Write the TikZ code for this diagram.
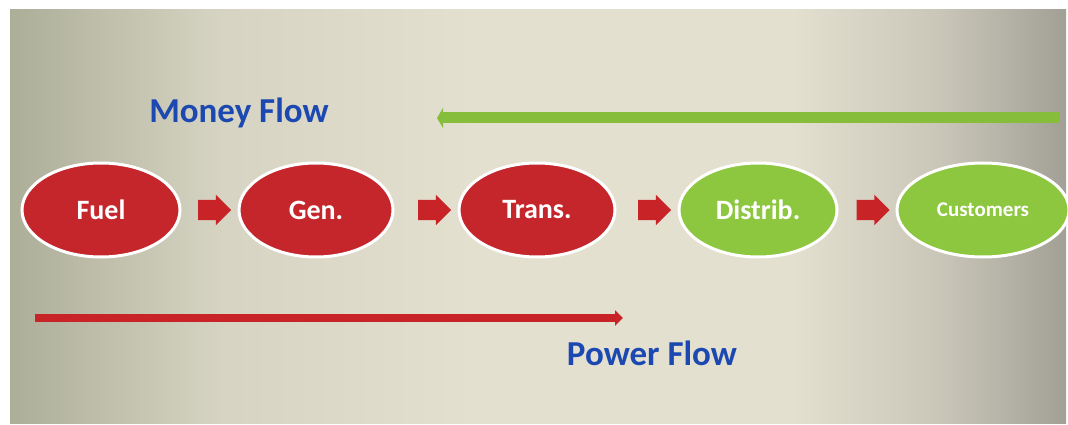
\documentclass[tikz,border=0pt]{standalone}
\usepackage{fontspec}
\setmainfont{Carlito}
\usetikzlibrary{shapes.arrows,shapes.geometric,arrows.meta}
\definecolor{ovred}{RGB}{196,38,44}
\definecolor{ovgreen}{RGB}{141,198,63}
\definecolor{txtblue}{RGB}{28,72,178}
\definecolor{bgleft}{RGB}{172,174,152}
\definecolor{bgmid}{RGB}{228,224,208}
\definecolor{bgright}{RGB}{162,160,150}
\definecolor{arrgreen}{RGB}{134,190,60}
\definecolor{arrred}{RGB}{200,36,40}
\pgfdeclarehorizontalshading{bgshade}{100bp}{color(0bp)=(bgleft); color(25bp)=(bgleft); color(35bp)=(bgmid!75!bgleft); color(47bp)=(bgmid); color(62bp)=(bgmid); color(69bp)=(bgmid!60!bgright); color(75bp)=(bgright); color(100bp)=(bgright)}
\tikzset{
  oval/.style={ellipse, draw=white, line width=3pt, minimum width=#1, minimum height=94pt, inner sep=0pt,
     text=white, font=\fontsize{28}{30}\selectfont\bfseries},
  redoval/.style={oval=#1, fill=ovred},
  greenoval/.style={oval=#1, fill=ovgreen},
  blockarrow/.style={single arrow, fill=arrred, draw=none, minimum height=33pt,
     single arrow head extend=5pt, inner xsep=0pt, inner ysep=10pt},
  flowlabel/.style={text=txtblue, font=\fontsize{35}{38}\selectfont\bfseries},
}
\begin{document}
\begin{tikzpicture}[x=1pt,y=-1pt]
\useasboundingbox (0,0) rectangle (1068,425);
\fill[white] (0,0) rectangle (1068,425);
\shade[shading=bgshade] (10,10) rectangle (1066,423);

\node[redoval=158pt] (fuel) at (101,210) {Fuel};
\node[redoval=154pt] (gen) at (316,210) {Gen.};
\node[redoval=156pt] (trans) at (537,210) {Trans.};
\node[greenoval=158pt] (dist) at (758,210) {Distrib.};
\node[greenoval=172pt, font=\fontsize{21}{24}\selectfont\bfseries] (cust) at (983,210) {Customers};

\node[blockarrow] (a1) at (209.5,210) {};
\node[blockarrow] (a2) at (429.5,210) {};
\node[blockarrow] (a3) at (649.5,210) {};
\node[blockarrow] (a4) at (868,210) {};

\node[flowlabel] (money) at (239,113) {Money Flow};
\node[flowlabel] (power) at (652,353) {Power Flow};

\coordinate (mR) at (1060,118);
\coordinate (mL) at (437,118);
\draw[arrgreen, line width=11pt, -{Triangle[length=6pt,width=20pt]}] (mR) -- (mL);

\coordinate (pL) at (35,318);
\coordinate (pR) at (623,318);
\draw[arrred, line width=8pt, -{Triangle[length=8pt,width=15pt]}] (pL) -- (pR);
\end{tikzpicture}
\end{document}
